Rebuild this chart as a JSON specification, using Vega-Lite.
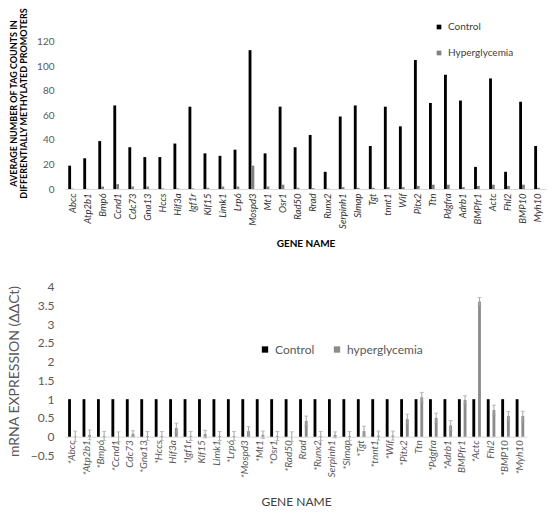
{
 "$schema": "https://vega.github.io/schema/vega-lite/v6.json",
 "background": "white",
 "padding": {"left": 7, "top": 6, "right": 5, "bottom": 5},
 "spacing": 31.5,
 "resolve": {"scale": {"color": "independent"}, "legend": {"color": "independent"}},
 "config": {"view": {"stroke": null}, "font": "Lato", "axis": {"grid": false, "ticks": false, "labelOverlap": false}},
 "datasets": {
  "top": [
   {"gene":"Abcc","series":"Control","value":19},{"gene":"Abcc","series":"Hyperglycemia","value":0.3},
   {"gene":"Atp2b1","series":"Control","value":25},{"gene":"Atp2b1","series":"Hyperglycemia","value":0.2},
   {"gene":"Bmp6","series":"Control","value":39},{"gene":"Bmp6","series":"Hyperglycemia","value":2},
   {"gene":"Ccnd1","series":"Control","value":68},{"gene":"Ccnd1","series":"Hyperglycemia","value":4},
   {"gene":"Cdc73","series":"Control","value":34},{"gene":"Cdc73","series":"Hyperglycemia","value":2},
   {"gene":"Gna13","series":"Control","value":26},{"gene":"Gna13","series":"Hyperglycemia","value":2},
   {"gene":"Hccs","series":"Control","value":26},{"gene":"Hccs","series":"Hyperglycemia","value":0.5},
   {"gene":"Hif3a","series":"Control","value":37},{"gene":"Hif3a","series":"Hyperglycemia","value":0.5},
   {"gene":"Igf1r","series":"Control","value":67},{"gene":"Igf1r","series":"Hyperglycemia","value":0.5},
   {"gene":"Klf15","series":"Control","value":29},{"gene":"Klf15","series":"Hyperglycemia","value":1},
   {"gene":"Limk1","series":"Control","value":27},{"gene":"Limk1","series":"Hyperglycemia","value":2},
   {"gene":"Lrp6","series":"Control","value":32},{"gene":"Lrp6","series":"Hyperglycemia","value":2},
   {"gene":"Mospd3","series":"Control","value":113},{"gene":"Mospd3","series":"Hyperglycemia","value":19},
   {"gene":"Mt1","series":"Control","value":29},{"gene":"Mt1","series":"Hyperglycemia","value":2},
   {"gene":"Osr1","series":"Control","value":67},{"gene":"Osr1","series":"Hyperglycemia","value":3.5},
   {"gene":"Rad50","series":"Control","value":34},{"gene":"Rad50","series":"Hyperglycemia","value":1},
   {"gene":"Rrad","series":"Control","value":44},{"gene":"Rrad","series":"Hyperglycemia","value":0.7},
   {"gene":"Runx2","series":"Control","value":14},{"gene":"Runx2","series":"Hyperglycemia","value":0.3},
   {"gene":"Serpinh1","series":"Control","value":59},{"gene":"Serpinh1","series":"Hyperglycemia","value":1.5},
   {"gene":"Slmap","series":"Control","value":68},{"gene":"Slmap","series":"Hyperglycemia","value":1},
   {"gene":"Tgt","series":"Control","value":35},{"gene":"Tgt","series":"Hyperglycemia","value":1},
   {"gene":"tnnt1","series":"Control","value":67},{"gene":"tnnt1","series":"Hyperglycemia","value":1.5},
   {"gene":"Wif","series":"Control","value":51},{"gene":"Wif","series":"Hyperglycemia","value":1.5},
   {"gene":"Pitx2","series":"Control","value":105},{"gene":"Pitx2","series":"Hyperglycemia","value":2.5},
   {"gene":"Ttn","series":"Control","value":70},{"gene":"Ttn","series":"Hyperglycemia","value":3.5},
   {"gene":"Pdgfra","series":"Control","value":93},{"gene":"Pdgfra","series":"Hyperglycemia","value":3.5},
   {"gene":"Adrb1","series":"Control","value":72},{"gene":"Adrb1","series":"Hyperglycemia","value":1.5},
   {"gene":"BMPfr1","series":"Control","value":18},{"gene":"BMPfr1","series":"Hyperglycemia","value":2.5},
   {"gene":"Actc","series":"Control","value":90},{"gene":"Actc","series":"Hyperglycemia","value":3.5},
   {"gene":"Fhl2","series":"Control","value":14},{"gene":"Fhl2","series":"Hyperglycemia","value":2.5},
   {"gene":"BMP10","series":"Control","value":71},{"gene":"BMP10","series":"Hyperglycemia","value":3.5},
   {"gene":"Myh10","series":"Control","value":35},{"gene":"Myh10","series":"Hyperglycemia","value":1}
  ],
  "bottom": [
   {"gene":"*Abcc","series":"Control","value":1},{"gene":"*Abcc","series":"hyperglycemia","value":0.01,"lo":-0.13,"hi":0.15},
   {"gene":"*Atp2b1","series":"Control","value":1},{"gene":"*Atp2b1","series":"hyperglycemia","value":0.05,"lo":-0.08,"hi":0.18},
   {"gene":"*Bmp6","series":"Control","value":1},{"gene":"*Bmp6","series":"hyperglycemia","value":0.02,"lo":-0.1,"hi":0.14},
   {"gene":"*Ccnd1","series":"Control","value":1},{"gene":"*Ccnd1","series":"hyperglycemia","value":0.0,"lo":-0.13,"hi":0.13},
   {"gene":"Cdc73","series":"Control","value":1},{"gene":"Cdc73","series":"hyperglycemia","value":0.08,"lo":0.0,"hi":0.16},
   {"gene":"*Gna13","series":"Control","value":1},{"gene":"*Gna13","series":"hyperglycemia","value":0.02,"lo":-0.1,"hi":0.14},
   {"gene":"*Hccs","series":"Control","value":1},{"gene":"*Hccs","series":"hyperglycemia","value":0.02,"lo":-0.1,"hi":0.14},
   {"gene":"Hif3a","series":"Control","value":1},{"gene":"Hif3a","series":"hyperglycemia","value":0.23,"lo":0.1,"hi":0.36},
   {"gene":"*Igf1r","series":"Control","value":1},{"gene":"*Igf1r","series":"hyperglycemia","value":0.02,"lo":-0.1,"hi":0.14},
   {"gene":"Klf15","series":"Control","value":1},{"gene":"Klf15","series":"hyperglycemia","value":0.07,"lo":-0.03,"hi":0.17},
   {"gene":"Limk1","series":"Control","value":1},{"gene":"Limk1","series":"hyperglycemia","value":0.02,"lo":-0.1,"hi":0.14},
   {"gene":"*Lrp6","series":"Control","value":1},{"gene":"*Lrp6","series":"hyperglycemia","value":0.02,"lo":-0.1,"hi":0.14},
   {"gene":"*Mospd3","series":"Control","value":1},{"gene":"*Mospd3","series":"hyperglycemia","value":0.15,"lo":0.03,"hi":0.27},
   {"gene":"*Mt1","series":"Control","value":1},{"gene":"*Mt1","series":"hyperglycemia","value":0.05,"lo":-0.05,"hi":0.15},
   {"gene":"*Osr1","series":"Control","value":1},{"gene":"*Osr1","series":"hyperglycemia","value":0.02,"lo":-0.1,"hi":0.14},
   {"gene":"*Rad50","series":"Control","value":1},{"gene":"*Rad50","series":"hyperglycemia","value":0.0,"lo":-0.13,"hi":0.13},
   {"gene":"Rrad","series":"Control","value":1},{"gene":"Rrad","series":"hyperglycemia","value":0.42,"lo":0.29,"hi":0.55},
   {"gene":"*Runx2","series":"Control","value":1},{"gene":"*Runx2","series":"hyperglycemia","value":0.02,"lo":-0.1,"hi":0.14},
   {"gene":"Serpinh1","series":"Control","value":1},{"gene":"Serpinh1","series":"hyperglycemia","value":0.05,"lo":-0.03,"hi":0.13},
   {"gene":"*Slmap","series":"Control","value":1},{"gene":"*Slmap","series":"hyperglycemia","value":0.02,"lo":-0.1,"hi":0.14},
   {"gene":"*Tgt","series":"Control","value":1},{"gene":"*Tgt","series":"hyperglycemia","value":0.15,"lo":0.02,"hi":0.28},
   {"gene":"*tnnt1","series":"Control","value":1},{"gene":"*tnnt1","series":"hyperglycemia","value":0.03,"lo":-0.09,"hi":0.15},
   {"gene":"*Wif","series":"Control","value":1},{"gene":"*Wif","series":"hyperglycemia","value":0.03,"lo":-0.09,"hi":0.15},
   {"gene":"*Pitx2","series":"Control","value":1},{"gene":"*Pitx2","series":"hyperglycemia","value":0.47,"lo":0.34,"hi":0.6},
   {"gene":"Ttn","series":"Control","value":1},{"gene":"Ttn","series":"hyperglycemia","value":1.05,"lo":0.92,"hi":1.18},
   {"gene":"*Pdgfra","series":"Control","value":1},{"gene":"*Pdgfra","series":"hyperglycemia","value":0.5,"lo":0.37,"hi":0.63},
   {"gene":"*Adrb1","series":"Control","value":1},{"gene":"*Adrb1","series":"hyperglycemia","value":0.3,"lo":0.17,"hi":0.43},
   {"gene":"BMPfr1","series":"Control","value":1},{"gene":"BMPfr1","series":"hyperglycemia","value":0.98,"lo":0.87,"hi":1.09},
   {"gene":"*Actc","series":"Control","value":1},{"gene":"*Actc","series":"hyperglycemia","value":3.6,"lo":3.5,"hi":3.71},
   {"gene":"Fhl2","series":"Control","value":1},{"gene":"Fhl2","series":"hyperglycemia","value":0.71,"lo":0.58,"hi":0.84},
   {"gene":"*BMP10","series":"Control","value":1},{"gene":"*BMP10","series":"hyperglycemia","value":0.55,"lo":0.43,"hi":0.67},
   {"gene":"*Myh10","series":"Control","value":1},{"gene":"*Myh10","series":"hyperglycemia","value":0.55,"lo":0.42,"hi":0.68}
  ]
 },
 "vconcat": [
  {
   "width": 481, "height": 172,
   "data": {"name": "top"},
   "mark": {"type": "bar"},
   "encoding": {
    "x": {"field": "gene", "type": "nominal", "sort": null,
          "scale": {"paddingInner": 0.43, "paddingOuter": 0.215},
          "axis": {"title": "GENE NAME", "labelAngle": -90, "labelFontStyle": "italic", "labelFontSize": 9.5, "labelColor": "#333333", "labelPadding": 4, "domainColor": "#d9d9d9", "titleFontWeight": "bold", "titleFontSize": 10, "titleColor": "#000000", "titlePadding": 10}},
    "xOffset": {"field": "series", "scale": {"domain": ["Control", "Hyperglycemia"]}},
    "y": {"field": "value", "type": "quantitative", "scale": {"domain": [0, 140]},
          "axis": {"values": [0, 20, 40, 60, 80, 100, 120], "title": ["AVERAGE NUMBER OF TAG COUNTS IN", "DIFFERENTIALLY METHYLATED  PROMOTERS"], "titleFontSize": 9, "titleFontWeight": "bold", "titleColor": "#000000", "titleLineHeight": 10, "labelFontSize": 10, "labelColor": "#595959", "domain": false, "labelPadding": 11, "titlePadding": 8}},
    "color": {"field": "series", "type": "nominal",
              "scale": {"domain": ["Control", "Hyperglycemia"], "range": ["#000000", "#808080"]},
              "legend": {"orient": "none", "direction": "vertical", "legendX": 369, "legendY": 5, "title": null, "symbolType": "square", "symbolSize": 22, "labelFontSize": 10, "rowPadding": 16, "labelColor": "#404040"}}
   }
  },
  {
   "width": 462, "height": 169,
   "data": {"name": "bottom"},
   "encoding": {
    "x": {"field": "gene", "type": "nominal", "sort": null,
          "scale": {"paddingInner": 0.43, "paddingOuter": 0.215},
          "axis": {"title": "GENE NAME", "offset": -18.8, "labelAngle": -90, "labelFontStyle": "italic", "labelFontSize": 10, "labelColor": "#595959", "labelPadding": 3, "domainColor": "#d9d9d9", "titleFontWeight": "normal", "titleFontSize": 12, "titleColor": "#404040", "titlePadding": 19}},
    "xOffset": {"field": "series", "scale": {"domain": ["Control", "hyperglycemia"]}}
   },
   "layer": [
    {
     "mark": {"type": "bar"},
     "encoding": {
      "y": {"field": "value", "type": "quantitative", "scale": {"domain": [-0.5, 4]},
            "axis": {"values": [-0.5, 0, 0.5, 1, 1.5, 2, 2.5, 3, 3.5, 4], "labelOverlap": false, "format": ".1~f", "title": "mRNA EXPRESSION (ΔΔCt)", "titleFontSize": 14, "titleFontWeight": "normal", "titleColor": "#595959", "labelFontSize": 12, "labelColor": "#595959", "domain": false, "labelPadding": 11, "titlePadding": 9}},
      "color": {"field": "series", "type": "nominal",
                "scale": {"domain": ["Control", "hyperglycemia"], "range": ["#000000", "#8c8c8c"]},
                "legend": {"orient": "none", "direction": "horizontal", "legendX": 194, "legendY": 57, "title": null, "symbolType": "square", "symbolSize": 40, "labelFontSize": 12, "columnPadding": 16, "labelColor": "#595959"}}
     }
    },
    {
     "transform": [{"filter": "datum.series == 'hyperglycemia'"}],
     "mark": {"type": "rule", "color": "#a6a6a6", "strokeWidth": 1},
     "encoding": {"y": {"field": "lo", "type": "quantitative", "axis": {"values": [-0.5, 0, 0.5, 1, 1.5, 2, 2.5, 3, 3.5, 4], "labelOverlap": false, "format": ".1~f", "title": "mRNA EXPRESSION (ΔΔCt)", "titleFontSize": 14, "titleFontWeight": "normal", "titleColor": "#595959", "labelFontSize": 12, "labelColor": "#595959", "domain": false, "labelPadding": 11, "titlePadding": 9}}, "y2": {"field": "hi"}}
    },
    {
     "transform": [{"filter": "datum.series == 'hyperglycemia'"}],
     "mark": {"type": "tick", "color": "#a6a6a6", "size": 4, "thickness": 1},
     "encoding": {"y": {"field": "lo", "type": "quantitative", "axis": {"values": [-0.5, 0, 0.5, 1, 1.5, 2, 2.5, 3, 3.5, 4], "labelOverlap": false, "format": ".1~f", "title": "mRNA EXPRESSION (ΔΔCt)", "titleFontSize": 14, "titleFontWeight": "normal", "titleColor": "#595959", "labelFontSize": 12, "labelColor": "#595959", "domain": false, "labelPadding": 11, "titlePadding": 9}}}
    },
    {
     "transform": [{"filter": "datum.series == 'hyperglycemia'"}],
     "mark": {"type": "tick", "color": "#a6a6a6", "size": 4, "thickness": 1},
     "encoding": {"y": {"field": "hi", "type": "quantitative", "axis": {"values": [-0.5, 0, 0.5, 1, 1.5, 2, 2.5, 3, 3.5, 4], "labelOverlap": false, "format": ".1~f", "title": "mRNA EXPRESSION (ΔΔCt)", "titleFontSize": 14, "titleFontWeight": "normal", "titleColor": "#595959", "labelFontSize": 12, "labelColor": "#595959", "domain": false, "labelPadding": 11, "titlePadding": 9}}}
    }
   ]
  }
 ]
}
